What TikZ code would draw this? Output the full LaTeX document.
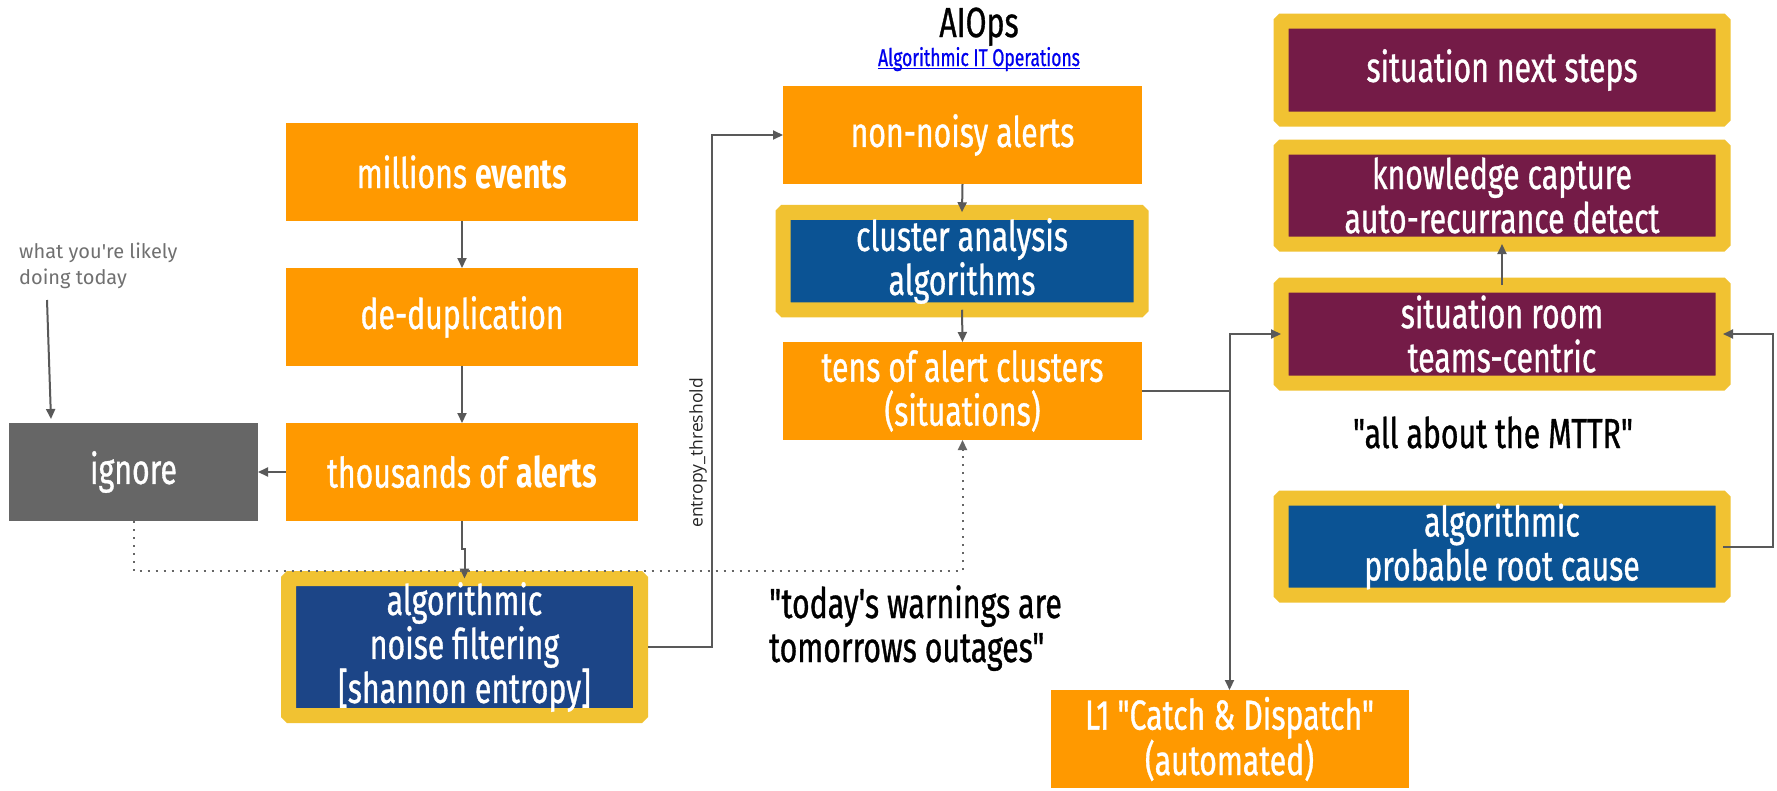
\documentclass[tikz,border=0pt]{standalone}
\usepackage{fontspec}
\usetikzlibrary{arrows.meta}
% condensed display face used for the box texts and headings
\newfontfamily\osw{Fira Sans}[FakeStretch=0.72,FakeBold=0.8,BoldFeatures={FakeBold=0},Ligatures=TeXOff]
\newfontfamily\notefont{Fira Sans}[Ligatures=TeXOff]
\newfontfamily\labelfont{Open Sans}[Ligatures=TeXOff]
\definecolor{orangec}{HTML}{FF9900}
\definecolor{grayc}{HTML}{666666}
\definecolor{goldc}{HTML}{F1C232}
\definecolor{navyc}{HTML}{1C4587}
\definecolor{bluec}{HTML}{0B5394}
\definecolor{maroonc}{HTML}{741B47}
\definecolor{linec}{HTML}{595959}
\definecolor{linkc}{HTML}{0000EE}
\definecolor{notec}{HTML}{707070}
\tikzset{
  boxtext/.style={font=\osw\fontsize{42}{44}\selectfont},
  plain/.style={rectangle, inner sep=0pt, outer sep=0pt, boxtext, text=white, align=center},
  orangebox/.style={plain, fill=orangec, minimum width=352pt, minimum height=98pt},
  framed/.style={plain, draw=goldc, line width=15pt, rounded corners=1.5pt, minimum height=98pt},
  quote/.style={inner sep=0pt, boxtext, text=black},
  conn/.style={draw=linec, line width=2pt},
  tip/.style={-{Triangle[length=10pt,width=9pt]}},
  dotconn/.style={draw=grayc, line width=2pt, dash pattern=on 2pt off 6pt},
}
\begin{document}
\begin{tikzpicture}[x=1pt,y=-1pt]
\fill[white] (0,0) rectangle (1777,790);
\useasboundingbox (0,0) rectangle (1777,790);

% left column: raw event pipeline
\node[orangebox] (millions) at (462,172) {millions \textbf{events}};
\node[orangebox] (dedup) at (462,317) {de-duplication};
\node[orangebox] (thousands) at (462,472) {thousands of \textbf{alerts}};
\node[plain, fill=grayc, minimum width=249pt, minimum height=98pt] (ignore) at (133.5,472) {ignore};
\node[framed, fill=navyc, minimum width=352pt, minimum height=137pt] (noise) at (464.5,647)
  {algorithmic\\noise filtering\\{}[shannon entropy]};

% middle column
\node[orangebox, minimum width=359pt] (nonnoisy) at (962.5,135) {non-noisy alerts};
\node[framed, fill=bluec, minimum width=358pt, minimum height=97.5pt] (cluster) at (962,261)
  {cluster analysis\\algorithms};
\node[orangebox, minimum width=359pt] (tens) at (962.5,391) {tens of alert clusters\\(situations)};
\node[orangebox, minimum width=358pt] (L1) at (1229.5,739) {L1 "Catch \& Dispatch"\\(automated)};

% right column: situation handling
\node[framed, fill=maroonc, minimum width=442pt] (next) at (1502,70) {situation next steps};
\node[framed, fill=maroonc, minimum width=442pt, minimum height=97pt] (knowledge) at (1502,195.5)
  {knowledge capture\\auto-recurrance detect};
\node[framed, fill=maroonc, minimum width=442pt] (room) at (1502,334) {situation room\\teams-centric};
\node[framed, fill=bluec, minimum width=442pt, minimum height=97pt] (rootcause) at (1502,546.5)
  {algorithmic\\probable root cause};

% headings and free texts
\node[quote, anchor=base] (title) at (979,37) {AIOps};
\node[inner sep=0pt, font=\osw\fontsize{24.3}{26}\selectfont, text=linkc, anchor=base] (link) at (979,66)
  {Algorithmic IT Operations};
\draw[linkc, line width=1.6pt] ([yshift=-2.5pt]link.base west) -- ([yshift=-2.5pt]link.base east);
\node[quote, anchor=base west, align=left] (warn) at (769,662) {"today's warnings are\\tomorrows outages"};
\node[quote, anchor=base] (mttr) at (1493,448) {"all about the MTTR"};
\node[inner sep=0pt, font=\notefont\fontsize{20}{26}\selectfont, text=notec, anchor=base west, align=left]
  (note) at (19,284) {what you're likely\\doing today};
\node[inner sep=0pt, font=\labelfont\fontsize{17.5}{20}\selectfont, text=black!85, rotate=90]
  (ethr) at (698,453) {entropy\_threshold};

% connectors
\draw[conn, tip] (millions.south) -- (dedup.north);
\draw[conn, tip] (dedup.south) -- (thousands.north);
\draw[conn, tip] (thousands.west) -- (ignore.east);
\draw[conn, tip] (thousands.south) -- ++(0,28) -| (noise.north);
\draw[conn, tip] ([xshift=7.5pt]noise.east) -- ++(64,0) |- (nonnoisy.west);
\draw[conn, tip] (nonnoisy.south) -- (cluster.north);
\draw[conn, tip] (cluster.south) -- (tens.north);
\coordinate (split) at (tens.east -| L1.north);
\draw[conn, tip] (tens.east) -| (L1.north);
\draw[conn, tip] (split) |- (room.west);
\draw[conn, tip] (rootcause.east) -- ++(50,0) |- (room.east);
\draw[conn, tip] (room.north) -- (knowledge.south);
\draw[dotconn, tip] (ignore.south) -- ++(0,50) -| (tens.south);
\draw[conn, tip] ([xshift=28pt,yshift=-16pt]note.base west) -- ([xshift=42pt,yshift=4pt]ignore.north west);
\end{tikzpicture}
\end{document}
